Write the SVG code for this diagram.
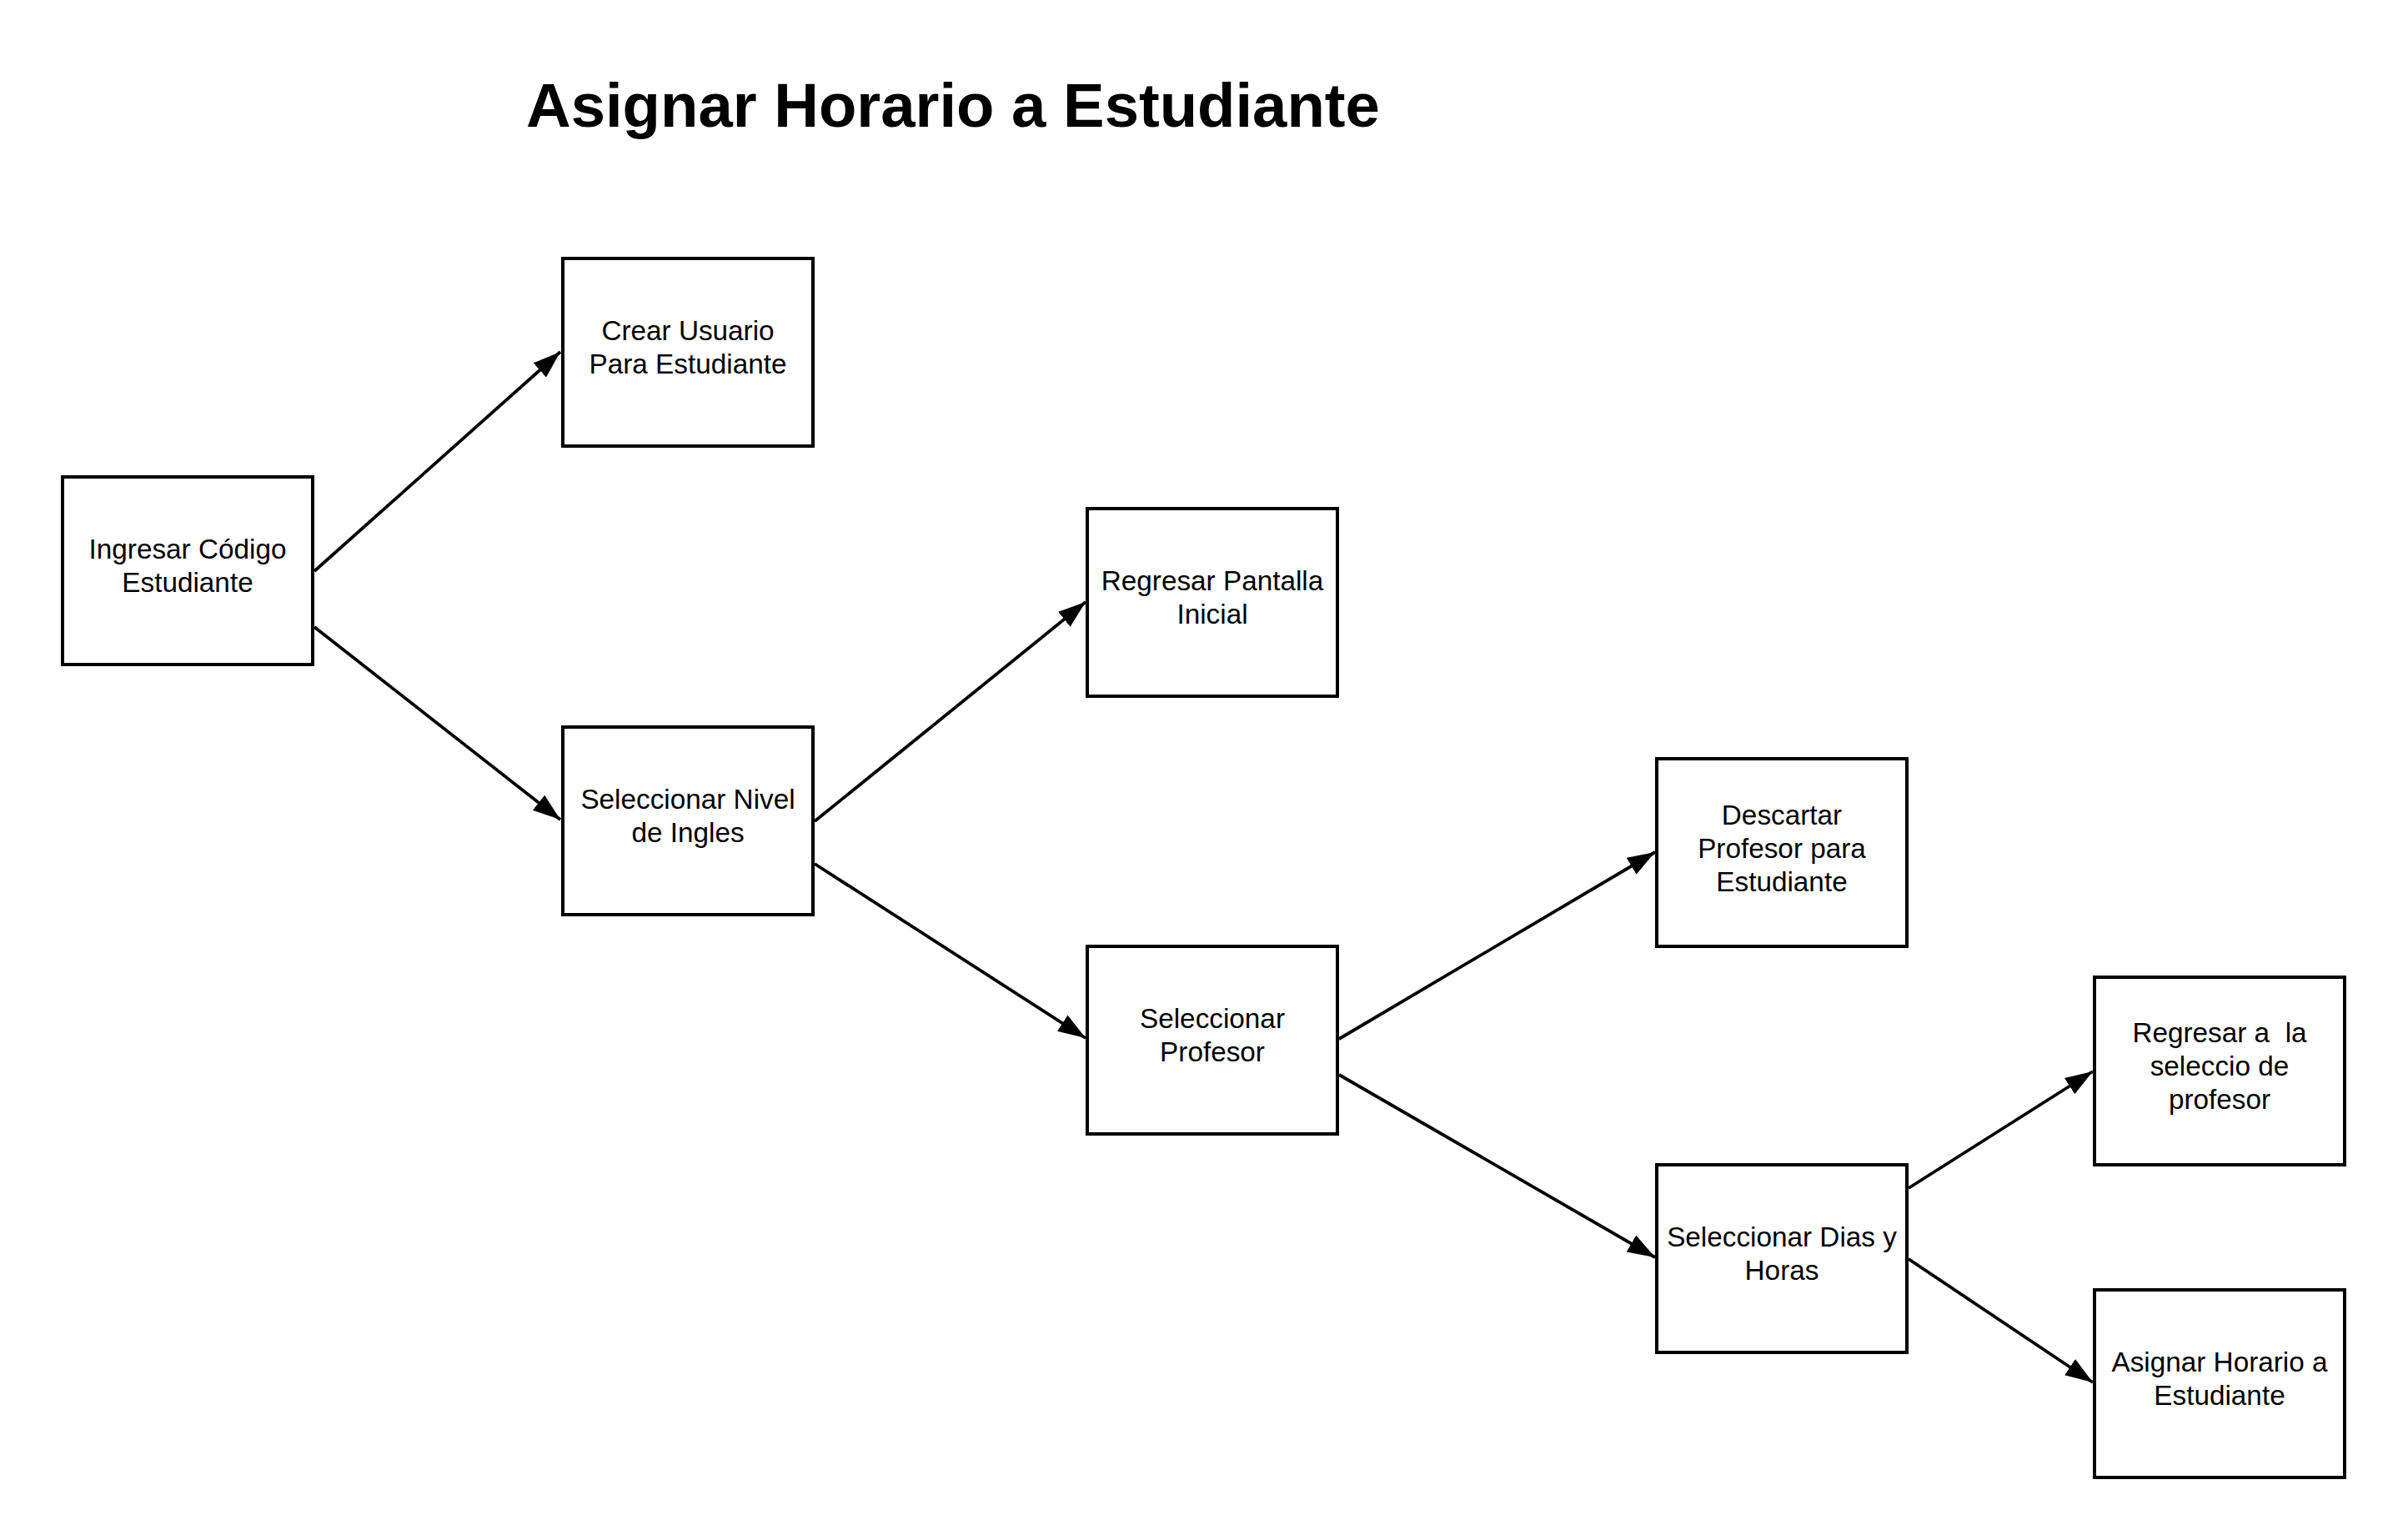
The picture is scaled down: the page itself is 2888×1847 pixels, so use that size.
<svg xmlns="http://www.w3.org/2000/svg" width="2888" height="1847" viewBox="0 0 2888 1847">
<style>
.box{fill:#ffffff;stroke:#000000;stroke-width:4}
.lbl{font-family:"Liberation Sans",Arial,sans-serif;font-size:33.3px;fill:#000000;text-anchor:middle;white-space:pre}
.title{font-family:"Liberation Sans",Arial,sans-serif;font-size:74.3px;font-weight:bold;fill:#000000}
.edge{stroke:#000000;stroke-width:3.8;fill:none;marker-end:url(#arrow)}
</style>
<defs>
<marker id="arrow" markerUnits="userSpaceOnUse" markerWidth="36" markerHeight="26" refX="33" refY="11.5" orient="auto">
<path d="M0,0 L33,11.5 L0,23 Z" fill="#000000"/>
</marker>
</defs>
<rect width="2888" height="1847" fill="#ffffff"/>
<text class="title" x="631" y="152">Asignar Horario a Estudiante</text>
<g id="connectors">
<line class="edge" x1="377" y1="685" x2="672" y2="422"/>
<line class="edge" x1="377" y1="752" x2="672" y2="983"/>
<line class="edge" x1="977" y1="985" x2="1302" y2="722"/>
<line class="edge" x1="977" y1="1036" x2="1302" y2="1245"/>
<line class="edge" x1="1606" y1="1246" x2="1985" y2="1022"/>
<line class="edge" x1="1606" y1="1289" x2="1985" y2="1508"/>
<line class="edge" x1="2289" y1="1425" x2="2510" y2="1285"/>
<line class="edge" x1="2289" y1="1510" x2="2510" y2="1658"/>
</g>
<g id="n_ingresar">
<rect class="box" x="75" y="572" width="300" height="225"/>
<text class="lbl" x="225" y="670">Ingresar Código</text>
<text class="lbl" x="225" y="710">Estudiante</text>
</g>
<g id="n_crear">
<rect class="box" x="675" y="310" width="300" height="225"/>
<text class="lbl" x="825" y="408">Crear Usuario</text>
<text class="lbl" x="825" y="448">Para Estudiante</text>
</g>
<g id="n_nivel">
<rect class="box" x="675" y="872" width="300" height="225"/>
<text class="lbl" x="825" y="970">Seleccionar Nivel</text>
<text class="lbl" x="825" y="1010">de Ingles</text>
</g>
<g id="n_regresar_pantalla">
<rect class="box" x="1304" y="610" width="300" height="225"/>
<text class="lbl" x="1454" y="708">Regresar Pantalla</text>
<text class="lbl" x="1454" y="748">Inicial</text>
</g>
<g id="n_profesor">
<rect class="box" x="1304" y="1135" width="300" height="225"/>
<text class="lbl" x="1454" y="1233">Seleccionar</text>
<text class="lbl" x="1454" y="1273">Profesor</text>
</g>
<g id="n_descartar">
<rect class="box" x="1987" y="910" width="300" height="225"/>
<text class="lbl" x="2137" y="989">Descartar</text>
<text class="lbl" x="2137" y="1029">Profesor para</text>
<text class="lbl" x="2137" y="1069">Estudiante</text>
</g>
<g id="n_dias">
<rect class="box" x="1987" y="1397" width="300" height="225"/>
<text class="lbl" x="2137" y="1495">Seleccionar Dias y</text>
<text class="lbl" x="2137" y="1535">Horas</text>
</g>
<g id="n_regresar_seleccion">
<rect class="box" x="2512" y="1172" width="300" height="225"/>
<text class="lbl" x="2662" y="1250">Regresar a  la</text>
<text class="lbl" x="2662" y="1290">seleccio de</text>
<text class="lbl" x="2662" y="1330">profesor</text>
</g>
<g id="n_asignar">
<rect class="box" x="2512" y="1547" width="300" height="225"/>
<text class="lbl" x="2662" y="1645">Asignar Horario a</text>
<text class="lbl" x="2662" y="1685">Estudiante</text>
</g>
</svg>
